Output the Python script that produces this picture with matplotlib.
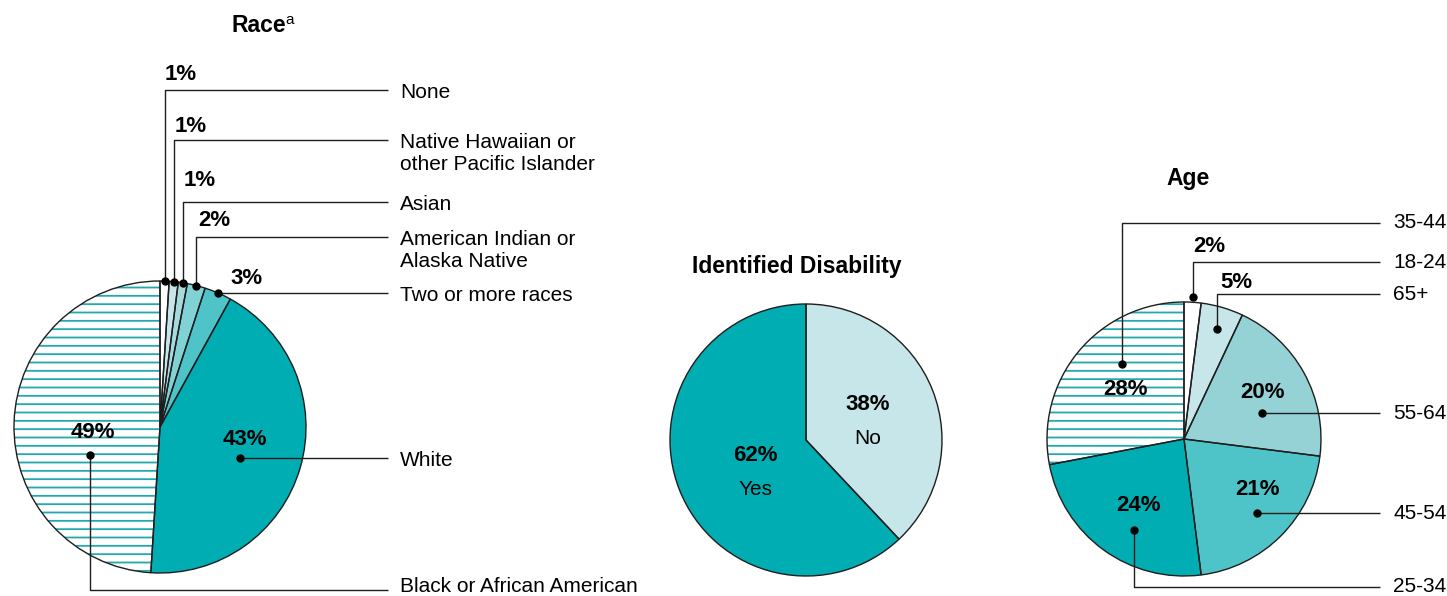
import matplotlib
matplotlib.use('Agg')
import matplotlib.pyplot as plt
import numpy as np

# ---------------- data ----------------
race_labels = ['None', 'Native Hawaiian or\nother Pacific Islander', 'Asian',
               'American Indian or\nAlaska Native', 'Two or more races',
               'White', 'Black or African American']
race_values = [1, 1, 1, 2, 3, 43, 49]

disability_labels = ['No', 'Yes']
disability_values = [38, 62]

age_labels = ['18-24', '65+', '55-64', '45-54', '25-34', '35-44']
age_values = [2, 5, 20, 21, 24, 28]

# ---------------- style ----------------
plt.rcParams['font.family'] = ['Liberation Sans', 'DejaVu Sans']
plt.rcParams['hatch.linewidth'] = 1.3

W, H = 1447, 596
fig = plt.figure(figsize=(W / 100, H / 100), dpi=100)
ax = fig.add_axes([0, 0, 1, 1])

TEAL = '#00adb2'
HATCH = '#22a8ad'
EDGE = '#1e1e1e'
LINE = '#1e1e1e'
FS = 15
FS_PCT = 16
FS_TITLE = 16.5


def Y(y):
    return H - y


def draw_pie(values, colors, hatched, center, radius):
    wedges, _ = ax.pie(values, colors=colors, startangle=90, counterclock=False,
                       center=center, radius=radius, frame=True,
                       wedgeprops=dict(linewidth=0))
    for w, h in zip(wedges, hatched):
        if h:
            w.set_facecolor('white')
            w.set_hatch('--')
            w.set_edgecolor(HATCH)
            w.set_linewidth(0)
    ax.pie(values, colors=['none'] * len(values), startangle=90, counterclock=False,
           center=center, radius=radius, frame=True,
           wedgeprops=dict(linewidth=1.0, edgecolor=EDGE))
    return wedges


def anchor(w, rfrac, dang):
    th = np.deg2rad((w.theta1 + w.theta2) / 2 + dang)
    return (w.center[0] + w.r * rfrac * np.cos(th),
            w.center[1] + w.r * rfrac * np.sin(th))


def leader(pt, line_y, x_end):
    x0, y0 = pt
    ly = y0 if line_y is None else Y(line_y)
    ax.plot([x0, x0, x_end], [y0, ly, ly], color=LINE, lw=1.0, solid_capstyle='butt')
    ax.plot([x0], [y0], 'o', color='black', ms=5)
    return x0, ly


# ---------------- Race ----------------
race_colors = ['white', '#c6e6e9', '#a6dbde', '#80d2d5', '#4fc4c8', TEAL, 'white']
race_hatch = [False] * 6 + [True]
rw = draw_pie(race_values, race_colors, race_hatch, (160, Y(427)), 146)
race_anchor = [(1, 0), (1, 0), (1, 0), (1.0, 0), (1.0, 0), (0.59, -5), (0.52, 23.6)]
race_line = [90, 140, 202, 237, None, None, 590]
race_pct = [('line', 0, 16), ('line', 1, 13), ('line', 1, 22), ('line', 2, 16),
            ('line', 12, 15), ('dot', 5, 19), ('dot', 3, 23)]
for w, lab, val, (rf, da), ly, (mode, dx, dy) in zip(rw, race_labels, race_values,
                                                     race_anchor, race_line, race_pct):
    pt = anchor(w, rf, da)
    ex, ey = leader(pt, ly, 388)
    n = lab.count('\n')
    ax.text(400, ey - 2 - n * 11.5 + (5 if ly == 590 else 0), lab, fontsize=FS,
            ha='left', va='center', linespacing=1.25)
    if mode == 'line':
        ax.text(ex + dx, ey + dy, f'{val}%', fontsize=FS_PCT, fontweight='bold',
                ha='left', va='center')
    else:
        ax.text(pt[0] + dx, pt[1] + dy, f'{val}%', fontsize=FS_PCT, fontweight='bold',
                ha='center', va='center')
ax.text(259, Y(25), 'Race', fontsize=FS_TITLE, fontweight='bold', ha='center', va='center')
ax.text(285, Y(20), 'a', fontsize=11, ha='left', va='center')

# ---------------- Disability ----------------
dis_colors = ['#c6e6e9', TEAL]
dw = draw_pie(disability_values, dis_colors, [False, False], (806, Y(440)), 136)
dis_pos = [(0.47, -5.2), (0.446, 11.3)]
for w, lab, val, (rf, da) in zip(dw, disability_labels, disability_values, dis_pos):
    x, y = anchor(w, rf, da)
    ax.text(x, y + 17, f'{val}%', fontsize=FS_PCT, fontweight='bold', ha='center', va='center')
    ax.text(x, y - 17, lab, fontsize=FS, ha='center', va='center')
ax.text(797, Y(267), 'Identified Disability', fontsize=FS_TITLE, fontweight='bold',
        ha='center', va='center')

# ---------------- Age ----------------
age_colors = ['white', '#c6e6e9', '#94d2d6', '#4fc4c8', TEAL, 'white']
age_hatch = [False] * 5 + [True]
aw = draw_pie(age_values, age_colors, age_hatch, (1184, Y(439)), 137)
age_anchor = [(1.04, 0), (0.84, -0.4), (0.6, -10.4), (0.76, -0.4), (0.76, 7.2), (0.71, -10.8)]
age_line = [262, 294, None, None, 587, 223]
age_pct = [('line', 16, 15), ('line', 20, 12), ('dot', 1, 21), ('dot', 0, 24),
           ('dot', 5, 25), ('dot', 4, -25)]
for w, lab, val, (rf, da), ly, (mode, dx, dy) in zip(aw, age_labels, age_values,
                                                     age_anchor, age_line, age_pct):
    pt = anchor(w, rf, da)
    ex, ey = leader(pt, ly, 1380)
    ax.text(1393, ey, lab, fontsize=FS, ha='left', va='center')
    if mode == 'line':
        ax.text(ex + dx, ey + dy, f'{val}%', fontsize=FS_PCT, fontweight='bold',
                ha='center', va='center')
    else:
        ax.text(pt[0] + dx, pt[1] + dy, f'{val}%', fontsize=FS_PCT, fontweight='bold',
                ha='center', va='center')
ax.text(1188, Y(179), 'Age', fontsize=FS_TITLE, fontweight='bold', ha='center', va='center')

ax.set_xlim(0, W)
ax.set_ylim(0, H)
ax.axis('off')
fig.savefig('out.png', dpi=100)
